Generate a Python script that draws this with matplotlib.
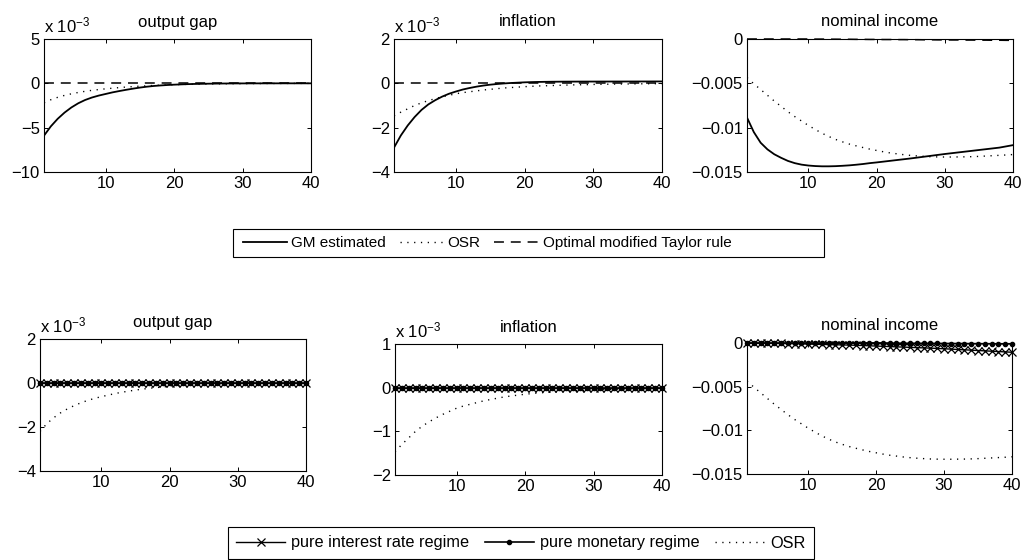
import numpy as np
import matplotlib
matplotlib.use("Agg")
import matplotlib.pyplot as plt
from matplotlib.ticker import FixedLocator, FuncFormatter
from matplotlib.patches import Rectangle

plt.rcParams['font.family'] = ['Liberation Sans', 'DejaVu Sans']
plt.rcParams['mathtext.fontset'] = 'custom'
plt.rcParams['mathtext.rm'] = 'Liberation Sans'
plt.rcParams['mathtext.it'] = 'Liberation Sans:italic'
plt.rcParams['axes.unicode_minus'] = True

# ---------------- data (periods 1..40) ----------------
periods = list(range(1, 41))

# output gap, x 1e-3
og_gm = [-5.90, -4.85, -4.00, -3.30, -2.72, -2.25, -1.88, -1.60, -1.38, -1.20,
         -1.02, -0.87, -0.73, -0.60, -0.48, -0.38, -0.30, -0.24, -0.19, -0.15,
         -0.12, -0.09, -0.07, -0.055, -0.04, -0.03, -0.02, -0.015, -0.01, -0.008,
         -0.006, -0.004, -0.003, -0.002, -0.001, 0.0, 0.0, 0.0, 0.0, 0.0]
og_osr = [-2.20, -1.85, -1.58, -1.36, -1.18, -1.03, -0.90, -0.79, -0.70, -0.62,
          -0.55, -0.48, -0.42, -0.37, -0.32, -0.28, -0.24, -0.21, -0.18, -0.15,
          -0.13, -0.11, -0.095, -0.08, -0.07, -0.06, -0.05, -0.04, -0.035, -0.03,
          -0.025, -0.02, -0.017, -0.014, -0.012, -0.01, -0.008, -0.006, -0.005, -0.004]
og_taylor = [0.0, 0.0, 0.0, 0.0, 0.0, 0.0, 0.0, 0.0, 0.0, 0.0,
             0.0, 0.0, 0.0, 0.0, 0.0, 0.0, 0.0, 0.0, 0.0, 0.0,
             0.0, 0.0, 0.0, 0.0, 0.0, 0.0, 0.0, 0.0, 0.0, 0.0,
             0.0, 0.0, 0.0, 0.0, 0.0, 0.0, 0.0, 0.0, 0.0, 0.0]

# inflation, x 1e-3
inf_gm = [-2.90, -2.35, -1.90, -1.52, -1.20, -0.95, -0.76, -0.60, -0.47, -0.37,
          -0.28, -0.21, -0.15, -0.10, -0.06, -0.03, -0.005, 0.015, 0.03, 0.045,
          0.055, 0.063, 0.068, 0.072, 0.075, 0.077, 0.078, 0.079, 0.080, 0.080,
          0.081, 0.081, 0.082, 0.082, 0.083, 0.083, 0.084, 0.084, 0.085, 0.085]
inf_osr = [-1.47, -1.30, -1.15, -1.00, -0.88, -0.78, -0.69, -0.61, -0.54, -0.47,
           -0.42, -0.38, -0.34, -0.30, -0.27, -0.24, -0.21, -0.19, -0.17, -0.15,
           -0.135, -0.12, -0.11, -0.10, -0.09, -0.08, -0.07, -0.065, -0.058, -0.05,
           -0.045, -0.04, -0.035, -0.03, -0.027, -0.024, -0.021, -0.018, -0.016, -0.014]
inf_taylor = [0.0, 0.0, 0.0, 0.0, 0.0, 0.0, 0.0, 0.0, 0.0, 0.0,
              0.0, 0.0, 0.0, 0.0, 0.0, 0.0, 0.0, 0.0, 0.0, 0.0,
              0.0, 0.0, 0.0, 0.0, 0.0, 0.0, 0.0, 0.0, 0.0, 0.0,
              0.0, 0.0, 0.0, 0.0, 0.0, 0.0, 0.0, 0.0, 0.0, 0.0]

# nominal income (levels)
ni_gm = [-0.00886, -0.01050, -0.01170, -0.01245, -0.01300, -0.01340, -0.01375, -0.01400, -0.01417, -0.01427,
         -0.01433, -0.01436, -0.01436, -0.01434, -0.01430, -0.01425, -0.01418, -0.01410, -0.01400, -0.01392,
         -0.01383, -0.01374, -0.01365, -0.01356, -0.01347, -0.01337, -0.01327, -0.01317, -0.01307, -0.01297,
         -0.01288, -0.01279, -0.01270, -0.01261, -0.01252, -0.01243, -0.01234, -0.01225, -0.01211, -0.01197]
ni_osr = [-0.00435, -0.00505, -0.00570, -0.00635, -0.00700, -0.00760, -0.00820, -0.00875, -0.00925, -0.00975,
          -0.01020, -0.01063, -0.01100, -0.01133, -0.01160, -0.01185, -0.01205, -0.01224, -0.01242, -0.01257,
          -0.01272, -0.01285, -0.01295, -0.01305, -0.01313, -0.01319, -0.01324, -0.01328, -0.01330, -0.01331,
          -0.01331, -0.01330, -0.01329, -0.01327, -0.01324, -0.01320, -0.01316, -0.01312, -0.01308, -0.01303]
ni_taylor = [0.0, 0.0, 0.0, 0.0, 0.0, 0.0, 0.0, 0.0, 0.0, 0.0,
             -0.00001, -0.00001, -0.00002, -0.00002, -0.00003, -0.00003, -0.00004, -0.00004, -0.00005, -0.00005,
             -0.00006, -0.00006, -0.00007, -0.00007, -0.00008, -0.00008, -0.00009, -0.00009, -0.00010, -0.00010,
             -0.00011, -0.00011, -0.00012, -0.00012, -0.00013, -0.00013, -0.00014, -0.00014, -0.00015, -0.00015]

# bottom row: regimes
og_ir = [0.0, 0.0, 0.0, 0.0, 0.0, 0.0, 0.0, 0.0, 0.0, 0.0,
         0.0, 0.0, 0.0, 0.0, 0.0, 0.0, 0.0, 0.0, 0.0, 0.0,
         0.0, 0.0, 0.0, 0.0, 0.0, 0.0, 0.0, 0.0, 0.0, 0.0,
         0.0, 0.0, 0.0, 0.0, 0.0, 0.0, 0.0, 0.0, 0.0, 0.0]
og_mon = [0.0, 0.0, 0.0, 0.0, 0.0, 0.0, 0.0, 0.0, 0.0, 0.0,
          0.0, 0.0, 0.0, 0.0, 0.0, 0.0, 0.0, 0.0, 0.0, 0.0,
          0.0, 0.0, 0.0, 0.0, 0.0, 0.0, 0.0, 0.0, 0.0, 0.0,
          0.0, 0.0, 0.0, 0.0, 0.0, 0.0, 0.0, 0.0, 0.0, 0.0]
inf_ir = [0.0, 0.0, 0.0, 0.0, 0.0, 0.0, 0.0, 0.0, 0.0, 0.0,
          0.0, 0.0, 0.0, 0.0, 0.0, 0.0, 0.0, 0.0, 0.0, 0.0,
          0.0, 0.0, 0.0, 0.0, 0.0, 0.0, 0.0, 0.0, 0.0, 0.0,
          0.0, 0.0, 0.0, 0.0, 0.0, 0.0, 0.0, 0.0, 0.0, 0.0]
inf_mon = [0.0, 0.0, 0.0, 0.0, 0.0, 0.0, 0.0, 0.0, 0.0, 0.0,
           0.0, 0.0, 0.0, 0.0, 0.0, 0.0, 0.0, 0.0, 0.0, 0.0,
           0.0, 0.0, 0.0, 0.0, 0.0, 0.0, 0.0, 0.0, 0.0, 0.0,
           0.0, 0.0, 0.0, 0.0, 0.0, 0.0, 0.0, 0.0, 0.0, 0.0]
ni_ir = [0.0, -0.00001, -0.00002, -0.00003, -0.00004, -0.00005, -0.00006, -0.00008, -0.00010, -0.00012,
         -0.00014, -0.00016, -0.00018, -0.00020, -0.00022, -0.00024, -0.00026, -0.00029, -0.00032, -0.00035,
         -0.00038, -0.00041, -0.00044, -0.00047, -0.00050, -0.00053, -0.00056, -0.00059, -0.00062, -0.00066,
         -0.00070, -0.00074, -0.00078, -0.00082, -0.00086, -0.00090, -0.00094, -0.00098, -0.00102, -0.00106]
ni_mon = [0.0, 0.0, 0.0, 0.0, 0.0, 0.0, 0.0, 0.0, 0.0, 0.0,
          0.0, 0.0, 0.0, 0.0, 0.0, 0.0, 0.0, 0.0, 0.0, -0.00001,
          -0.00001, -0.00002, -0.00002, -0.00003, -0.00003, -0.00004, -0.00004, -0.00005, -0.00005, -0.00006,
          -0.00006, -0.00007, -0.00007, -0.00008, -0.00008, -0.00009, -0.00009, -0.00010, -0.00010, -0.00010]

titles = ["output gap", "inflation", "nominal income"]
x_ticks = [10, 20, 30, 40]
yt_top = [[-10, -5, 0, 5], [-4, -2, 0, 2], [-0.015, -0.01, -0.005, 0]]
yt_bot = [[-4, -2, 0, 2], [-2, -1, 0, 1], [-0.015, -0.01, -0.005, 0]]

legend_top = ["GM estimated", "OSR", "Optimal modified Taylor rule"]
legend_bot = ["pure interest rate regime", "pure monetary regime", "OSR"]

# ---------------- styling ----------------
W, H = 1027, 560
fig = plt.figure(figsize=(W / 100, H / 100), dpi=100)

def px_axes(x0, y0, x1, y1):
    return fig.add_axes([x0 / W, 1 - y1 / H, (x1 - x0) / W, (y1 - y0) / H])

pos_top = [(44, 39, 311, 172), (394, 39, 662, 172), (747, 39, 1013, 172)]
pos_bot = [(40, 339, 306, 471), (395, 344, 662, 475), (747, 343, 1012, 474)]

FS = 12
DOT = (0, (0.9, 4.0))
DASH = (0, (6.5, 4.5))

def fmt(v, pos):
    s = "%g" % v
    return s.replace("-", "\u2212")

def style(ax, yticks, title, sci):
    ax.set_xlim(1, 40)
    ax.set_ylim(yticks[0], yticks[-1])
    ax.xaxis.set_major_locator(FixedLocator(x_ticks))
    ax.yaxis.set_major_locator(FixedLocator(yticks))
    ax.yaxis.set_major_formatter(FuncFormatter(fmt))
    ax.tick_params(direction='in', length=3, width=0.7, top=True, right=True,
                   labelsize=FS, pad=3)
    for sp in ax.spines.values():
        sp.set_linewidth(0.8)
    ax.set_title(title, fontsize=FS, pad=9)
    if sci:
        ax.text(0.0, 1.03, r"x 10$^{\mathrm{-3}}$", transform=ax.transAxes,
                fontsize=FS, ha='left', va='bottom')

top_series = [(og_gm, og_osr, og_taylor), (inf_gm, inf_osr, inf_taylor),
              (ni_gm, ni_osr, ni_taylor)]
bot_series = [(og_ir, og_mon, og_osr), (inf_ir, inf_mon, inf_osr),
              (ni_ir, ni_mon, ni_osr)]

top_handles = None
for i, (p, (g, o, t)) in enumerate(zip(pos_top, top_series)):
    ax = px_axes(*p)
    h1, = ax.plot(periods, g, color='black', lw=1.3, ls='-')
    h2, = ax.plot(periods, o, color='black', lw=1.0, ls=DOT)
    h3, = ax.plot(periods, t, color='black', lw=1.1, ls=DASH, clip_on=False)
    style(ax, yt_top[i], titles[i], i < 2)
    if i == 0:
        top_handles = [h1, h2, h3]

bot_handles = None
for i, (p, (r, m, o)) in enumerate(zip(pos_bot, bot_series)):
    ax = px_axes(*p)
    h2, = ax.plot(periods, m, color='black', lw=1.2, marker='.', ms=6,
                  clip_on=False, zorder=3)
    h1, = ax.plot(periods, r, color='black', lw=1.0, marker='x', ms=6,
                  mew=0.9, clip_on=False, zorder=4)
    h3, = ax.plot(periods, o, color='black', lw=1.0, ls=DOT)
    style(ax, yt_bot[i], titles[i], i < 2)
    if i == 0:
        bot_handles = [h1, h2, h3]

# top legend: MATLAB-like box wider than its entries
fig.add_artist(Rectangle((233 / W, 1 - 257 / H), (824 - 233) / W, 28 / H,
                         transform=fig.transFigure, fill=False,
                         lw=0.8, ec='black'))
fig.legend(top_handles, legend_top, loc='center left',
           bbox_to_anchor=(243 / W, 1 - 243 / H), ncol=3, frameon=False,
           fontsize=11, handlelength=2.9, handletextpad=0.25,
           columnspacing=0.9, borderpad=0, borderaxespad=0)

l2 = fig.legend(bot_handles, legend_bot, loc='center',
                bbox_to_anchor=(521 / W, 1 - 543 / H), ncol=3, frameon=True,
                fancybox=False, framealpha=1, edgecolor='black',
                fontsize=11.7, handlelength=3.0, handletextpad=0.4,
                columnspacing=0.95, borderpad=0.5, borderaxespad=0)
l2.get_frame().set_linewidth(0.8)

fig.savefig("out.png", dpi=100)
